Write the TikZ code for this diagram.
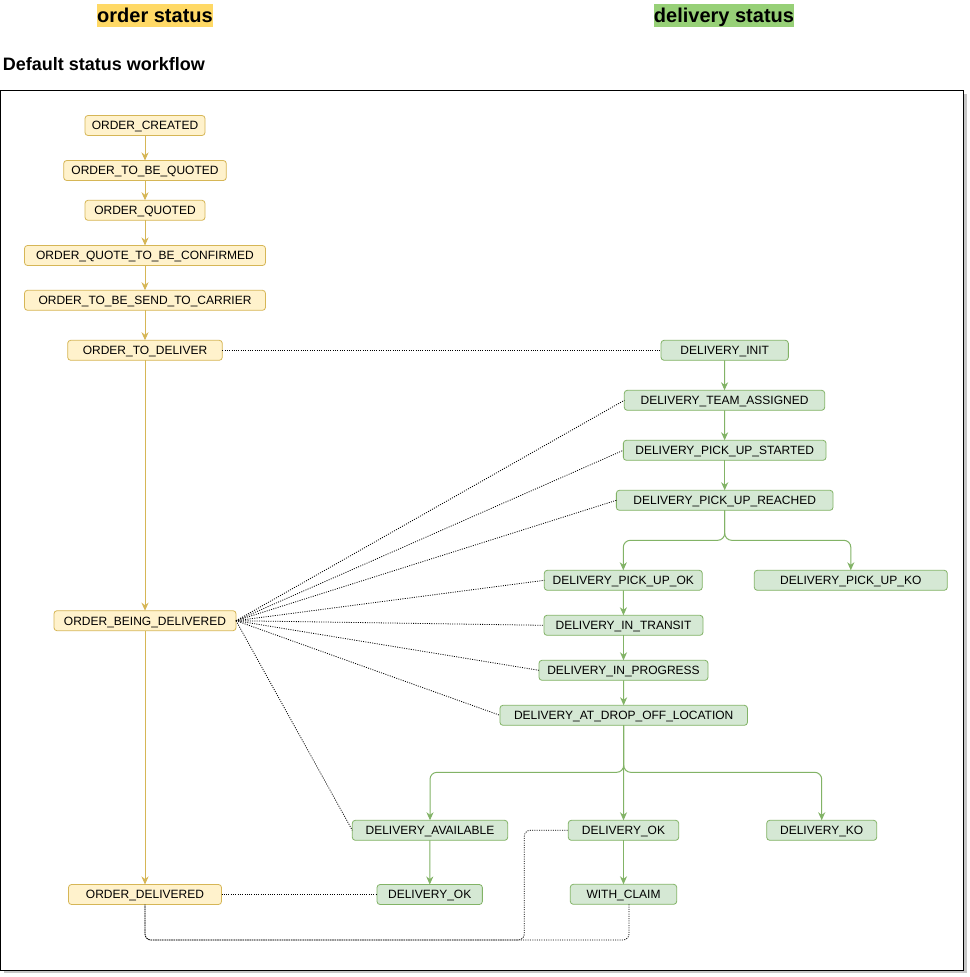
\documentclass[tikz,border=0pt]{standalone}
\usepackage{fontspec}
\setmainfont{Liberation Sans}
\usetikzlibrary{arrows.meta}
\definecolor{ordfill}{HTML}{FFF2CC}
\definecolor{ordstroke}{HTML}{D6B656}
\definecolor{delfill}{HTML}{D5E8D4}
\definecolor{delstroke}{HTML}{82B366}
\definecolor{ordtitle}{HTML}{FFD966}
\definecolor{deltitle}{HTML}{97D077}
\tikzset{
  base/.style={rounded corners=3pt, minimum height=20pt, inner sep=0pt, outer sep=0pt,
    text height=8.6pt, text depth=0pt, font=\fontsize{12}{14}\selectfont, line width=0.8pt},
  ord/.style={base, draw=ordstroke, fill=ordfill},
  del/.style={base, draw=delstroke, fill=delfill},
  oarr/.style={draw=ordstroke, line width=1pt, -{Stealth[length=8pt, width=7pt, inset=2.5pt]}},
  darr/.style={draw=delstroke, line width=1pt, rounded corners=7pt, -{Stealth[length=8pt, width=7pt, inset=2.5pt]}},
  link/.style={draw=black, line width=0.8pt, dash pattern=on 1pt off 1.3pt, rounded corners=6pt},
  ttl/.style={inner sep=0pt, minimum height=22.4pt, text height=14.5pt, text depth=0pt, font=\fontsize{20}{24}\selectfont\bfseries}
}
\begin{document}
\begin{tikzpicture}[x=1pt, y=-1pt]
\useasboundingbox (0,0) rectangle (969,977);
% titles
\node[ttl, fill=ordtitle, minimum width=116pt] (t1) at (155,15.5) {order status};
\node[ttl, fill=deltitle, minimum width=140pt] (t2) at (724,15.5) {delivery status};
\node[anchor=base west, inner sep=0pt, font=\fontsize{18}{21}\selectfont\bfseries] (t3) at (2.7,70) {Default status workflow};
% frame
\fill[gray!45] (3.5,93.7) rectangle (966.5,973.3);
\draw[fill=white, line width=1.1pt] (0.5,90.7) rectangle (963.5,970.3);
% order nodes
\node[ord, minimum width=120pt] (ocr) at (145,125.5) {ORDER\_CREATED};
\node[ord, minimum width=162.6pt] (otbq) at (145,170.5) {ORDER\_TO\_BE\_QUOTED};
\node[ord, minimum width=120pt] (oq) at (145,210.3) {ORDER\_QUOTED};
\node[ord, minimum width=241pt] (oqc) at (145,255.5) {ORDER\_QUOTE\_TO\_BE\_CONFIRMED};
\node[ord, minimum width=241pt] (osend) at (145,300.3) {ORDER\_TO\_BE\_SEND\_TO\_CARRIER};
\node[ord, minimum width=154.6pt] (otd) at (145,350.3) {ORDER\_TO\_DELIVER};
\node[ord, minimum width=182pt] (obd) at (145,620.7) {ORDER\_BEING\_DELIVERED};
\node[ord, minimum width=153pt] (odel) at (145,894.5) {ORDER\_DELIVERED};
% delivery nodes
\node[del, minimum width=127.3pt] (dinit) at (724.7,350.3) {DELIVERY\_INIT};
\node[del, minimum width=200.4pt] (dteam) at (724.5,400.3) {DELIVERY\_TEAM\_ASSIGNED};
\node[del, minimum width=202.7pt] (dstart) at (724.7,450.3) {DELIVERY\_PICK\_UP\_STARTED};
\node[del, minimum width=216.7pt] (dreach) at (724.7,500.3) {DELIVERY\_PICK\_UP\_REACHED};
\node[del, minimum width=158pt] (dpok) at (623.3,580.3) {DELIVERY\_PICK\_UP\_OK};
\node[del, minimum width=193pt] (dpko) at (850.8,580.3) {DELIVERY\_PICK\_UP\_KO};
\node[del, minimum width=159pt] (dtrans) at (623.5,625.3) {DELIVERY\_IN\_TRANSIT};
\node[del, minimum width=169pt] (dprog) at (623.5,670.3) {DELIVERY\_IN\_PROGRESS};
\node[del, minimum width=247.5pt] (ddrop) at (623.7,715.3) {DELIVERY\_AT\_DROP\_OFF\_LOCATION};
\node[del, minimum width=155.4pt] (davail) at (430,830.3) {DELIVERY\_AVAILABLE};
\node[del, minimum width=110.4pt] (dok) at (623.5,830.3) {DELIVERY\_OK};
\node[del, minimum width=110pt] (dko) at (821.7,830.3) {DELIVERY\_KO};
\node[del, minimum width=105.3pt] (dokb) at (429.7,894.5) {DELIVERY\_OK};
\node[del, minimum width=106.4pt] (dclaim) at (623.5,894.3) {WITH\_CLAIM};
% order arrows
\draw[oarr] (ocr) -- (otbq);
\draw[oarr] (otbq) -- (oq);
\draw[oarr] (oq) -- (oqc);
\draw[oarr] (oqc) -- (osend);
\draw[oarr] (osend) -- (otd);
\draw[oarr] (otd) -- (obd);
\draw[oarr] (obd) -- (odel);
% delivery arrows
\coordinate (br1) at (724.7,540.3);
\coordinate (br2) at (623.7,772.3);
\draw[darr] (dinit) -- (dteam);
\draw[darr] (dteam) -- (dstart);
\draw[darr] (dstart) -- (dreach);
\draw[darr] (dreach.south) -- (br1) -| (dpok.north);
\draw[darr] (dreach.south) -- (br1) -| (dpko.north);
\draw[darr] (dpok) -- (dtrans);
\draw[darr] (dtrans) -- (dprog);
\draw[darr] (dprog) -- (ddrop);
\draw[darr] (ddrop.south) -- (br2) -| (davail.north);
\draw[darr] (ddrop.south) -- (dok.north);
\draw[darr] (ddrop.south) -- (br2) -| (dko.north);
\draw[darr] (davail) -- (dokb);
\draw[darr] (dok) -- (dclaim);
% dotted links
\draw[link] (otd.east) -- (dinit.west);
\draw[link] (obd.east) -- (dteam.west);
\draw[link] (obd.east) -- (dstart.west);
\draw[link] (obd.east) -- (dreach.west);
\draw[link] (obd.east) -- (dpok.west);
\draw[link] (obd.east) -- (dtrans.west);
\draw[link] (obd.east) -- (dprog.west);
\draw[link] (obd.east) -- (ddrop.west);
\draw[link] (obd.east) -- (davail.west);
\draw[link] (odel.east) -- (dokb.west);
\coordinate (c1) at (145,940);
\coordinate (c2) at (524.3,940);
\coordinate (c3) at (524.3,830.3);
\coordinate (c4) at (629,940);
\draw[link] (odel.south) -- (c1) -- (c2) -- (c3) -- (dok.west);
\draw[link] ([xshift=5.5pt]dclaim.south) -- (c4) -- (c1) -- (odel.south);
\end{tikzpicture}
\end{document}
